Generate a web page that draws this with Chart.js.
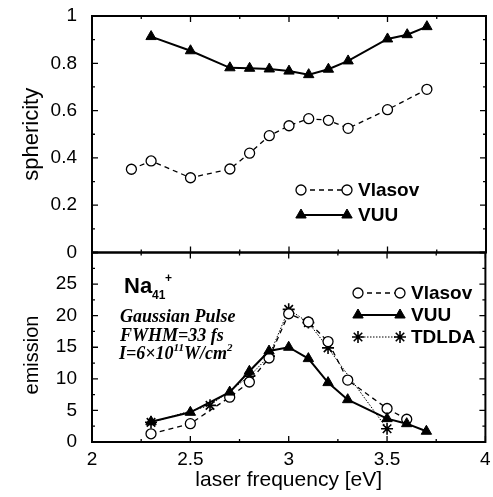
<!DOCTYPE html>
<html lang="en">
<head>
<meta charset="UTF-8">
<title>Sphericity and emission vs laser frequency</title>
<style>
  body { margin: 0; background: #fff; }
  .wrap { position: relative; width: 493px; height: 497px; }
  .wrap canvas { position: absolute; left: 0; top: 0; }
</style>
<script src="https://cdn.jsdelivr.net/npm/chart.js"></script>
</head>
<body>
<div class="wrap">
  <canvas id="topChart" width="493" height="497"></canvas>
  <canvas id="bottomChart" width="493" height="497"></canvas>
</div>
<script>
// sphericity panel
const vlasovSphX = [2.2, 2.3, 2.5, 2.7, 2.8, 2.9, 3.0, 3.1, 3.2, 3.3, 3.5, 3.7];
const vlasovSphY = [0.352, 0.387, 0.316, 0.353, 0.42, 0.494, 0.536, 0.566, 0.559, 0.525, 0.604, 0.69];
const vuuSphX = [2.3, 2.5, 2.7, 2.8, 2.9, 3.0, 3.1, 3.2, 3.3, 3.5, 3.6, 3.7];
const vuuSphY = [0.913, 0.853, 0.781, 0.779, 0.776, 0.767, 0.752, 0.775, 0.81, 0.903, 0.921, 0.955];

// emission panel
const vlasovEmX = [2.3, 2.5, 2.7, 2.8, 2.9, 3.0, 3.1, 3.2, 3.3, 3.5, 3.6];
const vlasovEmY = [1.3, 2.9, 7.1, 9.5, 13.3, 20.3, 19.0, 15.9, 9.8, 5.3, 3.6];
const vuuEmX = [2.3, 2.5, 2.7, 2.8, 2.9, 3.0, 3.1, 3.2, 3.3, 3.5, 3.6, 3.7];
const vuuEmY = [3.2, 4.7, 7.9, 11.2, 14.4, 15.0, 13.2, 9.4, 6.7, 3.7, 2.9, 1.7];
const tdldaEmX = [2.3, 2.6, 2.8, 2.9, 3.0, 3.1, 3.2, 3.5];
const tdldaEmY = [3.1, 5.8, 10.4, 13.6, 21.0, 18.9, 14.9, 2.1];

// tick labels
const freqTicks = [2, 2.5, 3, 3.5, 4];
const sphTicks = [0, 0.2, 0.4, 0.6, 0.8, 1];
const emTicks = [0, 5, 10, 15, 20, 25];

const SANS = "'Liberation Sans', Arial, sans-serif";
const SERIF = "'Liberation Serif', 'Times New Roman', serif";
Chart.defaults.font.family = SANS;
Chart.defaults.color = '#000';

const pts = (xs, ys) => xs.map((x, i) => ({ x: x, y: ys[i] }));

function vlasovSet(data) {
  return {
    label: 'Vlasov', data: data, showLine: true,
    borderColor: '#000', borderWidth: 1.3, borderDash: [5, 4],
    pointStyle: 'circle', pointRadius: 5,
    pointBackgroundColor: '#fff', pointBorderColor: '#000', pointBorderWidth: 1.3
  };
}
function vuuSet(data) {
  return {
    label: 'VUU', data: data, showLine: true,
    borderColor: '#000', borderWidth: 2,
    pointStyle: 'triangle', pointRadius: 6,
    pointBackgroundColor: '#000', pointBorderColor: '#000', pointBorderWidth: 1
  };
}
function tdldaSet(data) {
  return {
    label: 'TDLDA', data: data, showLine: true,
    borderColor: '#000', borderWidth: 1, borderDash: [1.5, 1.5],
    pointStyle: 'star', pointRadius: 6,
    pointBackgroundColor: '#000', pointBorderColor: '#000', pointBorderWidth: 1.6
  };
}

// inward tick marks + frame box
function frameTicks(yStep, yMajor) {
  return {
    id: 'frameTicks',
    afterDatasetsDraw(chart) {
      const { ctx, chartArea: a, scales } = chart;
      const xs = scales.x, ys = scales.y;
      ctx.save();
      ctx.strokeStyle = '#000';
      ctx.lineWidth = 1.3;
      ctx.beginPath();
      for (let i = 0; i <= 8; i++) {
        const v = 2 + i * 0.25;
        const px = xs.getPixelForValue(v);
        const len = i % 2 === 0 ? 6 : 3;
        ctx.moveTo(px, a.top); ctx.lineTo(px, a.top + len);
        ctx.moveTo(px, a.bottom); ctx.lineTo(px, a.bottom - len);
      }
      const n = Math.round((ys.max - ys.min) / yStep);
      for (let i = 0; i <= n; i++) {
        const v = ys.min + i * yStep;
        const py = ys.getPixelForValue(v);
        const len = i % yMajor === 0 ? 6 : 3;
        ctx.moveTo(a.left, py); ctx.lineTo(a.left + len, py);
        ctx.moveTo(a.right, py); ctx.lineTo(a.right - len, py);
      }
      ctx.stroke();
      ctx.lineWidth = 2;
      ctx.strokeRect(a.left, a.top, a.right - a.left, a.bottom - a.top);
      ctx.restore();
    }
  };
}

function legendRow(ctx, ds, y, x1, x2, tx) {
  ctx.save();
  ctx.strokeStyle = '#000';
  ctx.lineWidth = ds.borderWidth;
  ctx.setLineDash(ds.borderDash || []);
  ctx.beginPath();
  ctx.moveTo(x1, y); ctx.lineTo(x2, y);
  ctx.stroke();
  ctx.setLineDash([]);
  const o = { pointStyle: ds.pointStyle, radius: ds.pointRadius, borderWidth: ds.pointBorderWidth, rotation: 0 };
  ctx.fillStyle = ds.pointBackgroundColor;
  ctx.lineWidth = ds.pointBorderWidth;
  Chart.helpers.drawPoint(ctx, o, x1, y);
  Chart.helpers.drawPoint(ctx, o, x2, y);
  ctx.fillStyle = '#000';
  ctx.font = 'bold 19px ' + SANS;
  ctx.textBaseline = 'middle';
  ctx.textAlign = 'left';
  ctx.fillText(ds.label, tx, y + 1);
  ctx.restore();
}

function yAxis(min, max, ticks, title) {
  return {
    type: 'linear', min: min, max: max,
    afterBuildTicks: s => { s.ticks = ticks.map(v => ({ value: v })); },
    afterFit: s => { s.width = 92; s.paddingTop = 0; s.paddingBottom = 0; },
    grid: { display: false, drawTicks: false },
    border: { display: false },
    ticks: { font: { size: 19 }, color: '#000', padding: 15, callback: v => String(v) },
    title: { display: !!title, text: title, font: { size: 22 }, color: '#000', padding: { top: 19, bottom: 0 } }
  };
}

const topData = { datasets: [vuuSet(pts(vuuSphX, vuuSphY)), vlasovSet(pts(vlasovSphX, vlasovSphY))] };

new Chart(document.getElementById('topChart'), {
  type: 'scatter',
  data: topData,
  options: {
    responsive: false, animation: false, devicePixelRatio: 1,
    layout: { padding: { top: 16, right: 3, bottom: 244.5, left: 0 } },
    plugins: { legend: { display: false }, tooltip: { enabled: false } },
    scales: {
      x: { type: 'linear', min: 2, max: 4, display: false },
      y: yAxis(0, 1, sphTicks, 'sphericity')
    }
  },
  plugins: [frameTicks(0.1, 2), {
    id: 'topLegend',
    afterDraw(chart) {
      const ds = chart.data.datasets;
      legendRow(chart.ctx, ds[1], 190, 301, 347, 358);
      legendRow(chart.ctx, ds[0], 215, 301, 347, 358);
    }
  }]
});

const botData = {
  datasets: [
    vuuSet(pts(vuuEmX, vuuEmY)),
    vlasovSet(pts(vlasovEmX, vlasovEmY)),
    tdldaSet(pts(tdldaEmX, tdldaEmY))
  ]
};

new Chart(document.getElementById('bottomChart'), {
  type: 'scatter',
  data: botData,
  options: {
    responsive: false, animation: false, devicePixelRatio: 1,
    layout: { padding: { top: 252.5, right: 3, bottom: 0, left: 0 } },
    plugins: { legend: { display: false }, tooltip: { enabled: false } },
    scales: {
      x: {
        type: 'linear', min: 2, max: 4,
        afterBuildTicks: s => { s.ticks = freqTicks.map(v => ({ value: v })); },
        afterFit: s => { s.height = 55; s.paddingLeft = 0; s.paddingRight = 0; },
        grid: { display: false, drawTicks: false },
        border: { display: false },
        ticks: { font: { size: 19 }, color: '#000', padding: 6, maxRotation: 0, callback: v => String(v) },
        title: { display: true, text: 'laser frequency [eV]', font: { size: 21 }, color: '#000', padding: { top: 0, bottom: 4 } }
      },
      y: yAxis(0, 30, emTicks, '')
    }
  },
  plugins: [frameTicks(2.5, 2), {
    id: 'botLabels',
    afterDraw(chart) {
      const ctx = chart.ctx;
      const ds = chart.data.datasets;
      legendRow(ctx, ds[1], 293, 358, 400, 411);
      legendRow(ctx, ds[0], 315, 358, 400, 411);
      legendRow(ctx, ds[2], 337, 358, 400, 411);

      ctx.save();
      ctx.fillStyle = '#000';
      // y axis title, drawn by hand to sit a little below the panel centre
      ctx.save();
      ctx.translate(32, 355);
      ctx.rotate(-Math.PI / 2);
      ctx.font = '20px ' + SANS;
      ctx.textAlign = 'center';
      ctx.textBaseline = 'middle';
      ctx.fillText('emission', 0, 0);
      ctx.restore();

      ctx.textAlign = 'left';
      ctx.textBaseline = 'alphabetic';
      ctx.font = 'bold 22px ' + SANS;
      ctx.fillText('Na', 124, 293);
      ctx.font = 'bold 12px ' + SANS;
      ctx.fillText('41', 152, 299);
      ctx.fillText('+', 165, 282);

      ctx.font = 'bold italic 18px ' + SERIF;
      ctx.fillText('Gaussian Pulse', 120, 322);
      ctx.fillText('FWHM=33 fs', 120, 341);
      let x = 119;
      const part = (t, f, dy) => { ctx.font = f; ctx.fillText(t, x, 359 + dy); x += ctx.measureText(t).width; };
      part('I=6\u00d710', 'bold italic 18px ' + SERIF, 0);
      part('11', 'bold italic 11px ' + SERIF, -8);
      part('W/cm', 'bold italic 18px ' + SERIF, 0);
      part('2', 'bold italic 11px ' + SERIF, -8);
      ctx.restore();
    }
  }]
});
</script>
</body>
</html>
